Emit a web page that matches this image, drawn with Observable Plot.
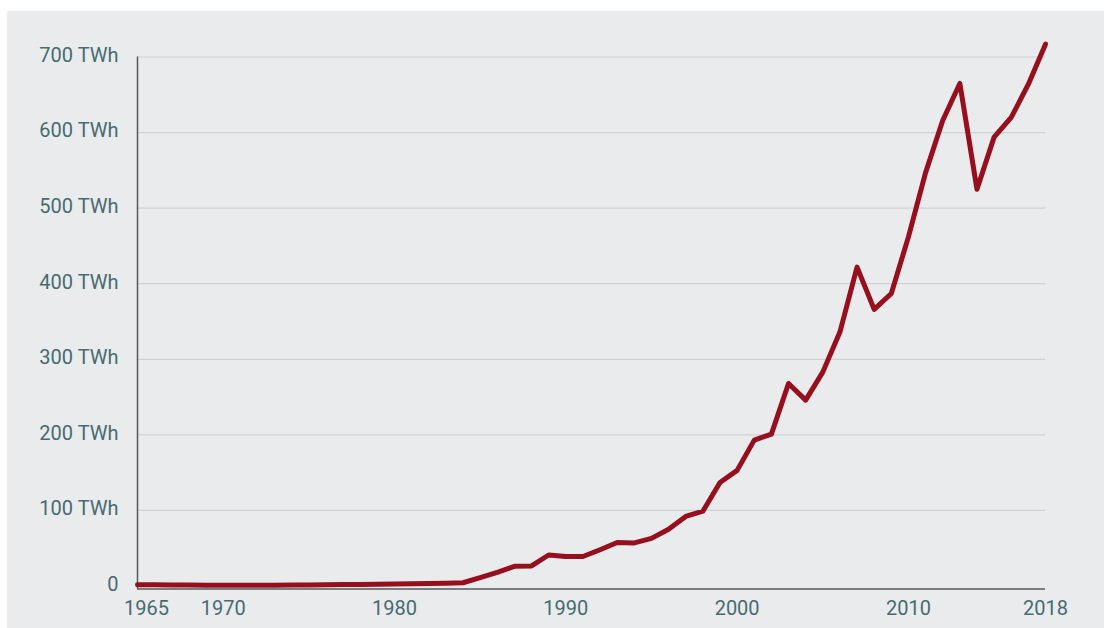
<!DOCTYPE html>
<html>
<head>
<meta charset="utf-8">
<script src="https://cdn.jsdelivr.net/npm/d3@7"></script>
<script src="https://cdn.jsdelivr.net/npm/@observablehq/plot@0.6"></script>
<style>
  html, body { margin: 0; padding: 0; background: #ffffff; }
  #bg { position: absolute; left: 7px; top: 11px; width: 1097px; height: 617px; background: #e9ebed; }
  #chart { position: absolute; left: 0; top: 0; }
  #chart svg { background: transparent; }
</style>
</head>
<body>
<div id="bg"></div>
<div id="chart"></div>
<script>
const years = [1965,1966,1967,1968,1969,1970,1971,1972,1973,1974,1975,1976,1977,1978,1979,1980,1981,1982,1983,1984,1985,1986,1987,1988,1989,1990,1991,1992,1993,1994,1995,1996,1997,1998,1999,2000,2001,2002,2003,2004,2005,2006,2007,2008,2009,2010,2011,2012,2013,2014,2015,2016,2017,2018];
const twh = [1.6,1.5,1.4,1.3,1.1,0.9,0.8,0.9,1.0,1.2,1.4,1.6,1.8,2.0,2.2,2.5,2.8,3.2,3.7,4.3,11,18,26,26.5,41,39,39,48,57.5,57,63,75,92,99,137,153,193,201,268,246,283,336,422,366,387,462,547,616,665,525,594,620,664,717];
const yTicks = [0,100,200,300,400,500,600,700];
const yTickLabels = ["0","100 TWh","200 TWh","300 TWh","400 TWh","500 TWh","600 TWh","700 TWh"];
const xTicks = [1965,1970,1980,1990,2000,2010,2018];

const data = years.map((y, i) => ({year: y, value: twh[i]}));
const gridVals = yTicks.filter(v => v > 0);

const textColor = "#476b71";
const fontSize = "20px";

const chart = Plot.plot({
  width: 1104,
  height: 628,
  marginLeft: 137,
  marginRight: 59,
  marginTop: 41.4,
  marginBottom: 39.5,
  style: {fontFamily: "Roboto, sans-serif", background: "transparent"},
  x: {domain: [1965, 2018]},
  y: {domain: [-4, 720]},
  marks: [
    Plot.ruleY(gridVals, {y: d => d, x1: 1965, x2: 2018, stroke: "#cdd3d6", strokeWidth: 1.2}),
    Plot.ruleX([1965], {y1: -4, y2: 700, stroke: "#555a5c", strokeWidth: 1.5}),
    Plot.ruleY([-4], {x1: 1965, x2: 2018, stroke: "#555a5c", strokeWidth: 1.5}),
    Plot.axisY({ticks: yTicks, tickSize: 0, tickPadding: 19, tickFormat: d => yTickLabels[yTicks.indexOf(d)], fontSize, fill: textColor, fontWeight: 400, label: null, dy: -1.5}),
    Plot.axisX({ticks: xTicks.filter(t => t !== 1965), tickSize: 0, tickPadding: 12, tickFormat: d => String(d), fontSize, fill: textColor, fontWeight: 400, label: null}),
    Plot.axisX({ticks: [1965], tickSize: 0, tickPadding: 12, tickFormat: d => String(d), fontSize, fill: textColor, fontWeight: 400, label: null, dx: 9}),
    Plot.line(data, {x: "year", y: "value", stroke: "#970f1d", strokeWidth: 5, strokeLinejoin: "round", strokeLinecap: "round"})
  ]
});
document.getElementById("chart").appendChild(chart);
</script>
</body>
</html>
